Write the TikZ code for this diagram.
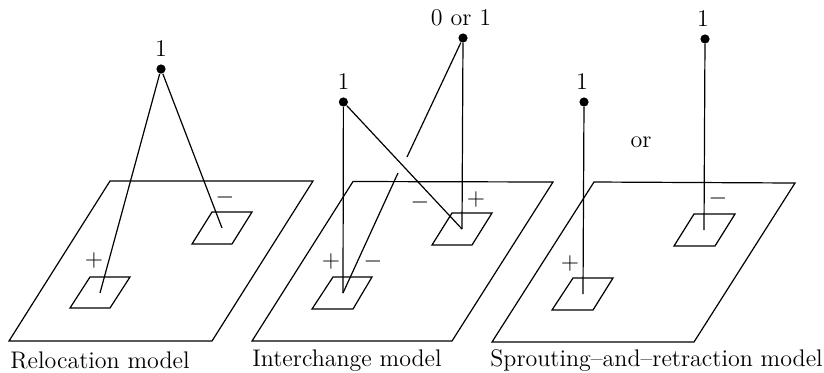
\documentclass[tikz,border=0pt]{standalone}
\usepackage{tikz}
\usetikzlibrary{positioning}

\begin{document}
\begin{tikzpicture}[
  x=0.5pt, y=-0.5pt,
  plate/.style={draw=black, line width=0.6pt, line join=miter},
  wire/.style={draw=black, line width=0.6pt},
  dot/.style={circle, fill=black, inner sep=0pt, minimum size=4.6pt},
  count/.style={font=\large, inner sep=0pt},
  sign/.style={font=\large, inner sep=0pt},
  caption/.style={font=\large, inner sep=0pt, anchor=base west}
]
\useasboundingbox (0,0) rectangle (824,372);

% Relocation
\draw[plate] (110,181) -- (313,181) -- (212,341) -- (9,341) -- cycle;
\draw[plate] (212,212) -- (252,212) -- (232,244) -- (192,244) -- cycle;
\draw[plate] (90,277) -- (130,277) -- (110,308) -- (70,308) -- cycle;
\node[dot] (relsoma) at (161,69) {};
\node[count, above=3.5pt of relsoma] (relone) {1};
\coordinate (relplus) at (100,293);
\coordinate (relminus) at (222,228);
\draw[wire] (relsoma) -- (relplus);
\draw[wire] (relsoma) -- (relminus);
\node[sign] (relp) at (94,260) {$+$};
\node[sign] (relm) at (225,197) {$-$};
\node[caption] (relcap) at (10,368) {Relocation model};

% Interchange
\draw[plate] (353,181.5) -- (553,182) -- (452,341) -- (252,341) -- cycle;
\draw[plate] (452,213) -- (492,213) -- (472,245) -- (432,245) -- cycle;
\draw[plate] (333,277) -- (372,277) -- (353,309) -- (312,309) -- cycle;
\node[dot] (intsoma) at (343.4,102) {};
\node[dot] (intspare) at (463,38) {};
\node[count, above=3.5pt of intsoma] (intone) {1};
\node[count, above=3.5pt of intspare, xshift=-1pt] (intzero) {0 or 1};
\coordinate (intleft) at (343,293);
\coordinate (intright) at (462,229);
\coordinate (intgapa) at (407,157);
\coordinate (intgapb) at (398,173);
\draw[wire] (intsoma) -- (intleft);
\draw[wire] (intsoma) -- (intright);
\draw[wire] (intspare) -- (intright);
\draw[wire] (intspare) -- (intgapa);
\draw[wire] (intgapb) -- (intleft);
\node[sign] (intpa) at (331,261) {$+$};
\node[sign] (intma) at (373,261) {$-$};
\node[sign] (intmb) at (420,202) {$-$};
\node[sign] (intpb) at (476,199) {$+$};
\node[caption] (intcap) at (252,366) {Interchange model};

% Sprouting
\draw[plate] (594,182) -- (795,183) -- (694,342) -- (492,342) -- cycle;
\draw[plate] (694,214) -- (735,214) -- (715,246) -- (674,246) -- cycle;
\draw[plate] (573,278) -- (613,278) -- (593,310) -- (552,310) -- cycle;
\node[dot] (sprsoma) at (584,102) {};
\node[dot] (sprtip) at (705,39) {};
\node[count, above=3.5pt of sprsoma, xshift=-1pt] (sprone) {1};
\node[count, above=3.5pt of sprtip, xshift=-1pt] (sprtwo) {1};
\coordinate (sprleft) at (583,294);
\coordinate (sprright) at (704,230);
\draw[wire] (sprsoma) -- (sprleft);
\draw[wire] (sprtip) -- (sprright);
\node[count] (spror) at (641,142) {or};
\node[sign] (sprp) at (570,263) {$+$};
\node[sign] (sprm) at (718,198) {$-$};
\node[caption] (sprcap) at (490,366) {Sprouting--and--retraction model};
\end{tikzpicture}
\end{document}
